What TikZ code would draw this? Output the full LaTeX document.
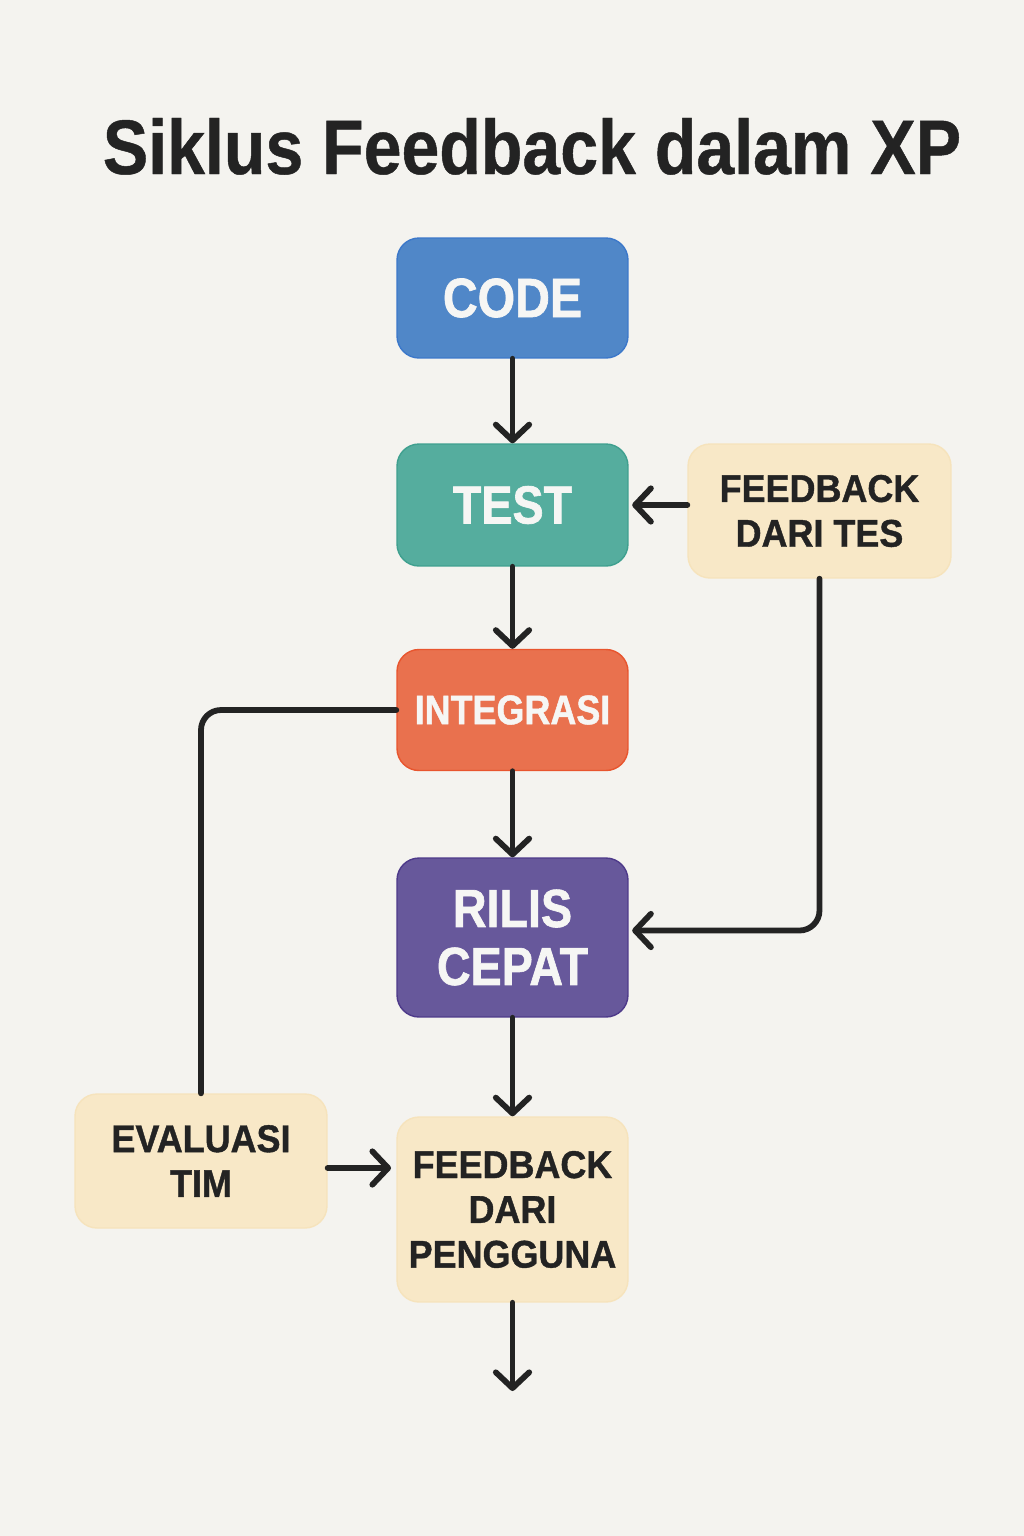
\documentclass[tikz,border=0pt]{standalone}
\usepackage{fontspec}
\setmainfont{Liberation Sans}
\newfontfamily\whitefont[FakeStretch=0.87, BoldFeatures={FakeBold=1.2}]{Liberation Sans}
\newfontfamily\darkfont[FakeStretch=0.93, BoldFeatures={FakeBold=1.0}]{Liberation Sans}
\newfontfamily\titlefont[FakeStretch=0.88, BoldFeatures={FakeBold=0.6}]{Liberation Sans}
\usetikzlibrary{arrows.meta}
\definecolor{bg}{HTML}{F4F3EF}
\definecolor{ink}{HTML}{232323}
\definecolor{codeblue}{HTML}{5087C8}
\definecolor{codeedge}{HTML}{3C78CA}
\definecolor{testgreen}{HTML}{55AD9E}
\definecolor{testedge}{HTML}{3FA08F}
\definecolor{integorange}{HTML}{E9714E}
\definecolor{integedge}{HTML}{E8552E}
\definecolor{rilispurple}{HTML}{67589B}
\definecolor{rilisedge}{HTML}{4E3A8A}
\definecolor{cream}{HTML}{F8E8C7}
\definecolor{creamedge}{HTML}{F6E3BC}
\definecolor{whitetext}{HTML}{F6F6F4}
\begin{document}
\begin{tikzpicture}[x=0.02cm,y=-0.02cm,
  box/.style={rectangle, rounded corners=0.44cm, inner sep=0pt, align=center, line width=0.8pt},
  colbox/.style={box, text=whitetext},
  creambox/.style={box, fill=cream, draw=creamedge, text=ink,
     font={\darkfont\bfseries\fontsize{22}{25.5}\selectfont}},
  conn/.style={draw=ink, line width=3.3pt, line cap=round, line join=round},
  arr/.style={conn, -{Straight Barb[length=9pt,width=19pt,round]}}
]
\fill[bg] (0,0) rectangle (1024,1536);
\useasboundingbox (0,0) rectangle (1024,1536);

\node[anchor=base, text=ink, font={\titlefont\bfseries\fontsize{44}{50}\selectfont}] (title) at (532,174) {Siklus Feedback dalam XP};

\node[colbox, fill=codeblue, draw=codeedge, minimum width=4.62cm, minimum height=2.4cm,
  font={\whitefont\bfseries\fontsize{31.5}{36}\selectfont}] (code) at (512.5,298) {CODE};
\node[colbox, fill=testgreen, draw=testedge, minimum width=4.62cm, minimum height=2.44cm,
  font={\whitefont\bfseries\fontsize{30.5}{36}\selectfont}] (test) at (512.5,505) {TEST};
\node[creambox, minimum width=5.26cm, minimum height=2.68cm] (fdt) at (819.5,511) {FEEDBACK\\DARI TES};
\node[colbox, fill=integorange, draw=integedge, minimum width=4.62cm, minimum height=2.42cm,
  font={\whitefont\bfseries\fontsize{23.5}{26}\selectfont}] (integ) at (512.5,710) {INTEGRASI};
\node[colbox, fill=rilispurple, draw=rilisedge, minimum width=4.62cm, minimum height=3.18cm,
  font={\whitefont\bfseries\fontsize{30.5}{33}\selectfont}] (rilis) at (512.5,937.5) {RILIS\\CEPAT};
\node[creambox, minimum width=5.04cm, minimum height=2.68cm] (eval) at (201,1161) {EVALUASI\\TIM};
\node[creambox, minimum width=4.62cm, minimum height=3.7cm] (fdp) at (512.5,1209.5) {FEEDBACK\\DARI\\PENGGUNA};
\coordinate (out) at (512.5,1391);

\draw[arr] (code.south) -- (test.north);
\draw[arr] (test.south) -- (integ.north);
\draw[arr] (integ.south) -- (rilis.north);
\draw[arr] (rilis.south) -- (fdp.north);
\draw[arr] (fdp.south) -- (out);
\draw[arr] (fdt.west |- test.east) -- ([xshift=2pt]test.east);
\draw[arr, rounded corners=0.4cm] (fdt.south) |- ([xshift=2pt,yshift=0.14cm]rilis.east);
\draw[conn, rounded corners=0.4cm] (integ.west) -| (eval.north);
\draw[arr] ([yshift=-0.14cm]eval.east) -- ([yshift=-0.14cm,xshift=-3pt]eval.east -| fdp.west);
\end{tikzpicture}
\end{document}
